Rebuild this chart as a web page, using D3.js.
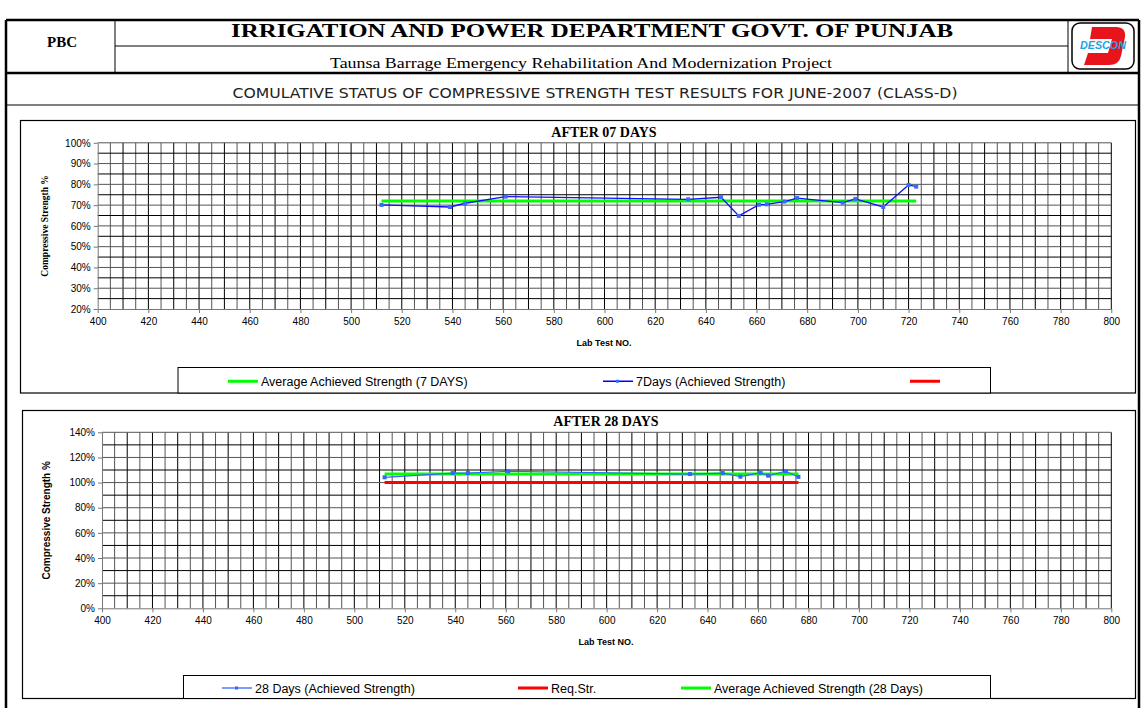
<!DOCTYPE html>
<html>
<head>
<meta charset="utf-8">
<script src="https://cdn.jsdelivr.net/npm/d3@7"></script>
<style>
  body { margin: 0; background: #fff; }
  svg { display: block; }
</style>
</head>
<body>
<svg id="sheet" width="1141" height="708"></svg>
<script>
// Lab test numbers and strength (% of required)
const labTests7 = [512, 539, 545, 561, 633, 646, 653, 661, 664, 671, 676, 694, 699, 710, 720, 723];
const strength7 = [70.1, 69.1, 70.9, 74.1, 72.8, 73.8, 64.8, 70.2, 70.4, 71.7, 73.4, 71.2, 73.0, 69.1, 79.7, 78.9];
const avg7 = 72.0;

const labTests28 = [512, 539, 545, 561, 633, 646, 653, 661, 664, 671, 676];
const strength28 = [104.2, 107.6, 107.6, 109.0, 106.8, 107.6, 104.7, 107.9, 105.5, 109.0, 104.5];
const avg28 = 106.8;
const reqStr = 100;

const xTicks = [400, 420, 440, 460, 480, 500, 520, 540, 560, 580, 600, 620, 640, 660, 680, 700, 720, 740, 760, 780, 800];
const yTicks7 = [20, 30, 40, 50, 60, 70, 80, 90, 100];
const yTicks28 = [0, 20, 40, 60, 80, 100, 120, 140];

const svg = d3.select("#sheet");
const serif = "'Liberation Serif','Times New Roman',serif";
const sans = "'Liberation Sans',Arial,sans-serif";

// ---- sheet frame & header ----
const frame = svg.append("g").attr("fill", "none").attr("stroke", "#000");
frame.append("line").attr("x1", 6).attr("x2", 1139).attr("y1", 20).attr("y2", 20).attr("stroke-width", 2.5);
frame.append("line").attr("x1", 6).attr("x2", 6).attr("y1", 20).attr("y2", 708).attr("stroke-width", 2.5);
frame.append("line").attr("x1", 1139).attr("x2", 1139).attr("y1", 20).attr("y2", 708).attr("stroke-width", 2.5);
frame.append("line").attr("x1", 6).attr("x2", 1139).attr("y1", 73).attr("y2", 73).attr("stroke-width", 2.5);
frame.append("line").attr("x1", 115).attr("x2", 115).attr("y1", 20).attr("y2", 73);
frame.append("line").attr("x1", 1068).attr("x2", 1068).attr("y1", 20).attr("y2", 73);
frame.append("line").attr("x1", 115).attr("x2", 1068).attr("y1", 46).attr("y2", 46);
frame.append("line").attr("x1", 6).attr("x2", 1139).attr("y1", 105).attr("y2", 105);

svg.append("text").attr("x", 62).attr("y", 47).attr("text-anchor", "middle")
  .style("font-family", serif).style("font-weight", "bold").style("font-size", "15px")
  .text("PBC");
svg.append("text").attr("x", 592).attr("y", 37).attr("text-anchor", "middle")
  .attr("textLength", 722).attr("lengthAdjust", "spacingAndGlyphs")
  .style("font-family", serif).style("font-weight", "bold").style("font-size", "19px")
  .text("IRRIGATION AND POWER DEPARTMENT GOVT. OF PUNJAB");
svg.append("text").attr("x", 581).attr("y", 68).attr("text-anchor", "middle")
  .attr("textLength", 502).attr("lengthAdjust", "spacingAndGlyphs")
  .style("font-family", serif).style("font-size", "14px")
  .text("Taunsa Barrage Emergency Rehabilitation And Modernization Project");
svg.append("text").attr("x", 595).attr("y", 98).attr("text-anchor", "middle")
  .attr("textLength", 725).attr("lengthAdjust", "spacingAndGlyphs")
  .style("font-family", "'DejaVu Sans Condensed','DejaVu Sans',sans-serif").style("font-size", "14px")
  .style("font-weight", "200").style("fill", "#222")
  .text("COMULATIVE STATUS OF COMPRESSIVE STRENGTH TEST RESULTS FOR JUNE-2007 (CLASS-D)");

// logo
const logo = svg.append("g").attr("transform", "translate(1072,23)");
logo.append("rect").attr("width", 62).attr("height", 46).attr("rx", 8)
  .attr("fill", "#fff").attr("stroke", "#000").attr("stroke-width", 1.5);
logo.append("path").attr("d", "M20,4 L44,4 Q54,4 53,14 L49,33 Q47,42 37,42 L12,42 L16,30 L36,30 L40,16 L18,16 Z")
  .attr("fill", "#e8141b");
logo.append("text").attr("x", 31).attr("y", 26).attr("text-anchor", "middle")
  .attr("textLength", 46).attr("lengthAdjust", "spacingAndGlyphs")
  .style("font-family", sans).style("font-weight", "bold").style("font-style", "italic")
  .style("font-size", "10px").style("fill", "#1aa3e8").text("DESCON");

// ---- chart helper ----
function drawChart(o) {
  const g = svg.append("g");
  g.append("rect").attr("x", o.box[0]).attr("y", o.box[1])
    .attr("width", o.box[2] - o.box[0]).attr("height", o.box[3] - o.box[1])
    .attr("fill", "#fff").attr("stroke", "#000").attr("stroke-width", 1.2);

  const x = d3.scaleLinear().domain([400, 800]).range(o.xRange);
  const y = d3.scaleLinear().domain(o.yDomain).range(o.yRange);

  // grid every 5 tests / minor y step
  const grid = g.append("g").attr("stroke", "#333").attr("stroke-width", 1);
  grid.selectAll(".vx").data(d3.range(405, 801, 5)).join("line")
    .attr("x1", d => x(d)).attr("x2", d => x(d))
    .attr("y1", o.yRange[0]).attr("y2", o.yRange[1])
    .attr("stroke", (d, i) => i % 2 ? "#000" : "#555");
  grid.selectAll(".hy").data(d3.range(o.yDomain[0] + o.yMinor, o.yDomain[1] + 0.01, o.yMinor)).join("line")
    .attr("x1", o.xRange[0]).attr("x2", o.xRange[1])
    .attr("y1", d => y(d)).attr("y2", d => y(d))
    .attr("stroke", (d, i) => i % 2 ? "#555" : "#000");

  g.append("g").attr("transform", `translate(0,${o.yRange[0]})`)
    .call(d3.axisBottom(x).tickValues(xTicks).tickSize(4).tickSizeOuter(0))
    .call(ax => {
      ax.select(".domain").attr("stroke", "#777");
      ax.selectAll(".tick line").attr("stroke", "#777");
      ax.selectAll(".tick text").style("font-family", sans).style("font-size", "10px").attr("dy", "0.9em");
    });
  g.append("g").attr("transform", `translate(${o.xRange[0]},0)`)
    .call(d3.axisLeft(y).tickValues(o.yTicks).tickFormat(d => d + "%").tickSize(4).tickSizeOuter(0))
    .call(ax => {
      ax.select(".domain").attr("stroke", "#777");
      ax.selectAll(".tick line").attr("stroke", "#777");
      ax.selectAll(".tick text").style("font-family", sans).style("font-size", "10px");
    });

  g.append("text").attr("x", o.titleX).attr("y", o.titleY).attr("text-anchor", "middle")
    .style("font-family", serif).style("font-weight", "bold").style("font-size", "14px")
    .text(o.title);
  g.append("text").attr("x", o.titleX).attr("y", o.yRange[0] + 37).attr("text-anchor", "middle")
    .style("font-family", sans).style("font-weight", "bold").style("font-size", "9px")
    .text("Lab Test NO.");
  const ym = (o.yRange[0] + o.yRange[1]) / 2;
  g.append("text").attr("transform", `translate(${o.yLabelX},${ym}) rotate(-90)`).attr("text-anchor", "middle")
    .style("font-family", o.yLabelFont).style("font-weight", "bold").style("font-size", o.yLabelSize)
    .text("Compressive Strength %");

  const line = d3.line().x(d => x(d[0])).y(d => y(d[1]));
  o.series.forEach(s => {
    g.append("path").datum(s.pts).attr("d", line).attr("fill", "none")
      .attr("stroke", s.color).attr("stroke-width", s.width);
    if (s.marker) {
      g.selectAll(null).data(s.pts).join("rect")
        .attr("x", d => x(d[0]) - 2).attr("y", d => y(d[1]) - 2)
        .attr("width", 4).attr("height", 4).attr("fill", s.marker);
    }
  });

  // legend
  const lb = o.legendBox;
  g.append("rect").attr("x", lb[0]).attr("y", lb[1]).attr("width", lb[2] - lb[0]).attr("height", lb[3] - lb[1])
    .attr("fill", "#fff").attr("stroke", "#000");
  const ly = (lb[1] + lb[3]) / 2 + 1;
  o.legend.forEach(it => {
    g.append("line").attr("x1", it.x).attr("x2", it.x + 30).attr("y1", ly).attr("y2", ly)
      .attr("stroke", it.color).attr("stroke-width", it.width);
    if (it.marker) g.append("rect").attr("x", it.x + 13).attr("y", ly - 1.5).attr("width", 3).attr("height", 3).attr("fill", it.marker);
    if (it.label) g.append("text").attr("x", it.x + 33).attr("y", ly + 4.5)
      .style("font-family", sans).style("font-size", "12.5px").text(it.label);
  });
}

const pts7 = labTests7.map((t, i) => [t, strength7[i]]);
const pts28 = labTests28.map((t, i) => [t, strength28[i]]);

drawChart({
  box: [20.5, 120.5, 1135.5, 393],
  xRange: [97.7, 1111.3], yDomain: [20, 100], yRange: [309, 142.8], yMinor: 5, yTicks: yTicks7,
  title: "AFTER 07 DAYS", titleX: 604, titleY: 137,
  yLabelX: 48, yLabelFont: serif, yLabelSize: "9.5px",
  series: [
    { pts: [[labTests7[0], avg7], [labTests7[labTests7.length - 1], avg7]], color: "#00ff00", width: 3 },
    { pts: pts7, color: "#1010ff", width: 1.3, marker: "#3a6bff" }
  ],
  legendBox: [178, 367.5, 990.5, 393],
  legend: [
    { x: 228, color: "#00ff00", width: 3, label: "Average Achieved Strength (7 DAYS)" },
    { x: 603, color: "#0000ff", width: 1.5, marker: "#3a6bff", label: "7Days (Achieved Strength)" },
    { x: 910, color: "#ff0000", width: 3 }
  ]
});

drawChart({
  box: [22.5, 410.5, 1135.5, 698.5],
  xRange: [102, 1111.3], yDomain: [0, 140], yRange: [608.3, 432.3], yMinor: 10, yTicks: yTicks28,
  title: "AFTER 28 DAYS", titleX: 606, titleY: 426,
  yLabelX: 50, yLabelFont: sans, yLabelSize: "10px",
  series: [
    { pts: [[labTests28[0], reqStr], [labTests28[labTests28.length - 1], reqStr]], color: "#ff0000", width: 3 },
    { pts: [[labTests28[0], avg28], [labTests28[labTests28.length - 1], avg28]], color: "#00ff00", width: 3 },
    { pts: pts28, color: "#3366ff", width: 1.2, marker: "#3366ff" }
  ],
  legendBox: [183.5, 675.5, 990.5, 698.5],
  legend: [
    { x: 222, color: "#3366ff", width: 1.3, marker: "#3366ff", label: "28 Days (Achieved Strength)" },
    { x: 518, color: "#ff0000", width: 3, label: "Req.Str." },
    { x: 681, color: "#00ff00", width: 3, label: "Average Achieved Strength (28 Days)" }
  ]
});
</script>
</body>
</html>
